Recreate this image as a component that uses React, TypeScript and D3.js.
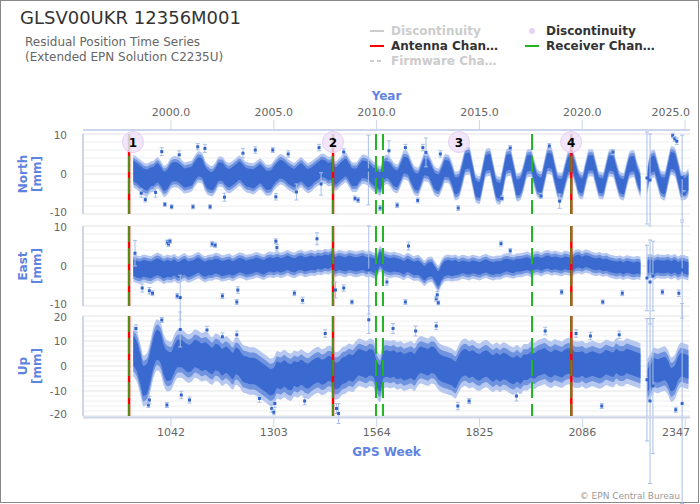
import * as d3 from "d3";

type Row = (number | null)[];
type Outlier = [number, number, number]; // year, value [mm], error [mm]
type Sample = { t: number; v: number | null; s: number };

// residual samples, six per year (Jan, Mar, May, Jul, Sep, Nov), from 1998
const firstYear = 1998;

const northMid: Row[] = [
  [null, 0.8, 0.2, -0.5, -1.2, -1.5],
  [-0.8, -0.5, 0.3, -0.6, -1.8, -1.2],
  [0.2, 0.6, 0.4, -0.3, -1.0, -0.8],
  [-0.5, 0.8, 1.8, 1.5, -0.5, -1.5],
  [-1.8, -0.8, 0.6, 0.5, -0.6, -1.0],
  [-0.5, 0.2, 0.8, 0.0, -0.8, -1.0],
  [-1.2, -0.6, 0.0, -0.8, -1.6, -1.5],
  [-0.4, 0.6, 1.2, 0.8, 0.0, -0.6],
  [-1.0, -0.2, 0.4, -0.4, -1.0, -0.6],
  [0.2, 0.8, 1.4, 1.2, 0.6, 0.8],
  [-0.5, 0.2, 1.0, 1.6, 0.4, -0.8],
  [-0.8, 0.3, 1.2, 1.0, 0.3, -0.6],
  [-1.0, -1.8, 0.5, 1.2, 0.4, -0.8],
  [-1.2, 0.4, 2.2, 2.0, 0.2, -1.6],
  [-2.0, -0.2, 1.8, 1.6, 0.0, -1.8],
  [-2.2, -0.6, 1.4, 1.2, -0.6, -3.0],
  [-2.6, 0.2, 3.2, 3.4, 0.0, -3.6],
  [-4.0, -0.6, 2.8, 3.0, -0.4, -3.8],
  [-4.2, -0.8, 2.8, 3.0, -0.2, -3.4],
  [-3.0, -0.4, 2.6, 2.8, 0.2, -2.4],
  [-2.8, 0.4, 3.4, 3.2, 0.0, -3.0],
  [-3.2, -0.4, 2.4, 2.8, 0.6, -2.4],
  [-3.0, 0.0, 2.8, 2.8, 0.0, -2.8],
  [-3.0, 0.0, 2.8, 2.6, -0.2, -2.8],
  [-3.2, -0.2, 2.4, 2.6, -0.2, -2.6],
  [null, -2.0, 2.2, 2.6, 0.0, -2.6],
  [-3.0, 0.2, 3.4, 3.0, 0.0, -3.0],
  [-3.0, -2.0],
];
const northSpread = [2.6, 2.4, 2.4, 2.4, 2.3, 2.3, 2.4, 2.3, 2.3, 2.2, 2.2, 2.2, 2.2, 2.1,
  2.1, 2.1, 2.0, 2.0, 2.0, 2.0, 1.9, 2.0, 1.9, 1.9, 1.9, 2.0, 2.1, 2.0];

const eastMid: Row[] = [
  [null, -0.4, -0.8, -1.0, -0.6, -0.8],
  [-1.0, -0.6, -0.2, -0.5, -1.0, -0.6],
  [-0.8, -0.4, -1.0, -0.6, -0.2, -0.8],
  [-0.6, -0.2, 0.2, -0.4, -0.8, -0.4],
  [-0.4, 0.0, -0.2, -0.6, -0.4, -0.2],
  [-0.6, -0.2, 0.2, 0.0, -0.4, -0.2],
  [0.0, 0.3, 0.0, -0.3, 0.2, 0.4],
  [0.2, 0.5, 0.2, 0.4, 0.8, 0.4],
  [0.2, 0.6, 0.8, 0.4, 0.6, 0.8],
  [0.6, 1.0, 0.8, 1.2, 1.0, 1.4],
  [0.4, 0.8, 0.6, 0.4, 0.8, 0.6],
  [0.4, 0.6, 0.8, 0.4, 0.6, 0.2],
  [0.0, 1.8, 0.8, 0.4, 0.2, 0.4],
  [0.2, 0.0, -0.4, 0.2, -0.2, -0.6],
  [-0.4, -1.0, -1.8, -1.0, -0.8, -2.0],
  [-3.2, -1.6, -0.6, -0.4, -0.6, -0.4],
  [-0.6, -0.2, -0.4, -0.6, -0.2, -0.4],
  [-0.6, -0.2, 0.0, -0.4, -0.6, -0.4],
  [-0.4, 0.0, 0.2, 0.0, -0.2, 0.2],
  [0.2, 0.4, 0.6, 0.2, 0.6, 0.8],
  [0.4, 0.8, 1.0, 0.6, 0.8, 0.6],
  [0.4, 0.8, 0.6, 0.4, 1.0, 1.2],
  [0.8, 1.2, 1.0, 0.6, 0.4, 0.6],
  [0.2, 0.4, 0.0, -0.2, -0.4, -0.2],
  [-0.6, -0.2, -0.4, -0.6, -0.4, -0.6],
  [null, -0.2, 0.0, -0.4, 0.0, -0.2],
  [-0.2, 0.0, -0.4, 0.0, -0.6, -0.2],
  [-0.4, -0.6],
];
const eastSpread = [2.1, 2.1, 2.0, 1.9, 1.9, 1.8, 1.8, 1.8, 1.8, 1.7, 1.8, 1.8, 1.8, 1.7,
  1.8, 1.9, 1.6, 1.6, 1.6, 1.6, 1.6, 1.6, 1.5, 1.5, 1.5, 1.6, 1.6, 1.6];

const upMid: Row[] = [
  [null, 6.0, 4.0, -1.0, -6.0, -5.0],
  [0.0, 6.0, 8.5, 7.0, 2.0, 0.0],
  [0.0, 3.0, 5.0, 5.0, 4.0, 3.0],
  [3.5, 5.0, 4.5, 3.5, 4.0, 3.0],
  [2.0, 3.5, 3.0, 1.5, 2.5, 1.5],
  [0.0, 2.0, 1.0, -1.0, -1.5, -2.0],
  [-2.0, -2.5, -3.5, -4.5, -5.5, -6.5],
  [-6.0, -3.5, -4.0, -3.0, -4.0, -4.5],
  [-3.0, -3.5, -2.5, -3.5, -4.0, -3.0],
  [-2.0, -1.5, -2.5, -2.0, -1.0, -1.5],
  [-4.0, -3.5, -2.0, -1.5, -0.5, -1.0],
  [0.5, 1.5, 1.0, 0.5, 1.5, 1.0],
  [-3.0, -5.0, 0.5, 1.0, 0.5, 1.0],
  [0.0, 0.5, -0.5, 0.0, 0.5, -0.5],
  [1.5, 2.5, 2.0, 1.5, 2.5, 2.0],
  [0.0, -1.0, -1.5, -2.0, -2.5, -3.5],
  [-1.0, 1.0, 1.5, 0.5, 1.0, 0.0],
  [-0.5, 0.5, 1.0, 0.0, -1.0, 0.0],
  [-1.0, 0.0, -0.5, -1.5, -2.0, -1.0],
  [-2.0, -0.5, -0.5, 0.5, 0.0, 1.0],
  [1.5, 2.0, 1.0, 0.5, 1.5, 1.0],
  [0.5, 1.5, 2.0, 1.5, 0.5, 0.5],
  [1.0, 0.0, 0.5, 1.0, 0.5, 0.0],
  [0.5, 1.5, 1.0, 0.5, 2.0, 1.0],
  [1.0, 2.0, 1.5, 1.0, 0.5, 0.0],
  [null, -6.0, -4.0, -1.5, -2.0, -1.5],
  [-1.0, -2.5, -5.5, -4.5, -1.0, 0.5],
  [0.0, -0.5],
];
const upSpread = [6.0, 6.0, 5.5, 5.5, 5.3, 5.3, 5.3, 5.3, 5.0, 5.0, 5.3, 5.3, 5.3, 5.3,
  5.3, 5.3, 5.3, 5.3, 5.3, 5.1, 5.1, 5.1, 4.9, 4.9, 4.9, 4.7, 4.7, 4.7];

// isolated points and long error bars
const northOutliers: Outlier[] = [
  [1998.55, -4.8, 1.0], [1998.75, -6.4, 0.6], [1999.25, -4.6, 1.2], [1999.55, 5.6, 1.0],
  [1999.7, -7.6, 0.5], [2000.03, -8.2, 0.5], [2000.4, 4.8, 1.0], [2001.07, -8.2, 0.5],
  [2001.3, 6.8, 0.8], [2001.65, 6.4, 1.0], [2001.9, -8.2, 0.5], [2002.6, -5.8, 1.0],
  [2003.5, 5.2, 1.2], [2004.1, 6.0, 0.8], [2004.95, 6.0, 0.6], [2005.1, -5.7, 0.8],
  [2005.7, 5.0, 0.8], [2006.1, -4.5, 2.0], [2007.2, 6.6, 0.8], [2007.3, -2.5, 2.8],
  [2008.4, 5.5, 0.8], [2008.95, -6.1, 0.6], [2009.1, -6.5, 0.6], [2009.6, 1.0, 8.7],
  [2010.17, -8.5, 0.6], [2010.6, 5.8, 2.5], [2011.0, -7.8, 0.6], [2011.4, 6.6, 0.8],
  [2012.0, -6.6, 0.6], [2012.25, 6.6, 0.8], [2012.4, 5.4, 3.6], [2013.1, 5.0, 0.8],
  [2013.97, -8.5, 0.6], [2016.1, -6.1, 0.6], [2016.5, 6.5, 0.6], [2018.0, -5.5, 0.6],
  [2018.4, 7.0, 0.6], [2018.9, -6.8, 1.8], [2021.5, 5.5, 0.6], [2024.4, 9.6, 0.6],
  [2024.5, 8.8, 0.6], [2024.6, 8.2, 0.8], [2024.95, -5.0, 0.8],
  [2023.15, -1.0, 11.5], [2023.3, -1.5, 11.5], [2024.86, -0.9, 10.6],
];
const eastOutliers: Outlier[] = [
  [1998.25, 3.2, 3.2], [1998.6, -5.5, 1.0], [1998.95, -6.2, 0.8], [1999.1, -6.8, 0.6],
  [1999.82, 6.0, 0.5], [1999.88, 5.5, 0.6], [1999.95, 6.2, 0.5], [2000.3, -7.5, 0.6],
  [2000.45, -7.9, 5.6], [2002.0, 5.5, 0.6], [2002.15, 5.2, 0.6], [2002.5, -7.5, 0.6],
  [2003.2, -9.0, 0.6], [2003.25, -6.0, 0.8], [2005.1, 6.2, 0.6], [2005.15, 4.6, 0.8],
  [2006.0, -6.8, 0.6], [2006.4, -8.6, 0.8], [2007.1, 6.8, 1.5], [2008.0, -6.0, 2.0],
  [2008.4, -5.5, 0.8], [2008.8, -9.0, 0.5], [2009.62, -1.0, 11.0], [2010.5, -4.0, 0.8],
  [2011.4, -9.0, 0.6], [2011.55, 5.0, 1.0], [2012.9, -8.2, 0.6], [2012.95, -7.2, 0.8],
  [2013.0, -9.2, 0.5], [2016.05, 5.6, 0.6], [2016.5, 3.8, 0.6], [2019.0, -6.5, 0.6],
  [2021.0, -9.0, 0.5], [2021.95, -6.8, 0.6], [2023.9, -6.5, 0.6], [2024.7, -6.8, 0.8],
  [2023.15, -3.0, 8.2], [2023.3, -4.0, 10.5], [2023.44, -2.5, 8.7], [2024.86, -1.0, 12.0],
];
const upOutliers: Outlier[] = [
  [1998.3, 15.0, 1.5], [1998.9, -15.6, 1.0], [1998.95, -13.6, 1.5], [1999.55, 18.4, 1.0],
  [1999.8, -15.6, 1.0], [2000.45, 14.6, 7.0], [2000.5, -11.6, 1.5], [2000.9, -13.6, 1.2],
  [2001.75, 14.4, 1.5], [2002.5, 11.7, 1.5], [2003.2, 12.5, 1.5], [2004.3, -13.0, 1.5],
  [2004.9, -17.0, 1.5], [2005.0, -18.5, 1.0], [2005.05, -15.0, 1.5], [2006.5, -14.0, 1.5],
  [2007.5, 13.0, 1.5], [2008.05, -17.0, 2.0], [2008.15, -19.0, 4.0], [2009.62, 18.5, 5.5],
  [2010.8, 15.0, 2.0], [2011.9, 14.0, 2.0], [2012.9, 16.0, 1.5], [2013.95, -16.0, 1.5],
  [2014.5, -14.0, 1.0], [2016.8, -12.0, 2.0], [2018.2, 14.0, 1.5], [2019.7, 13.0, 1.5],
  [2020.4, 12.0, 1.5], [2020.95, -16.0, 1.0], [2021.8, 12.5, 1.5], [2024.55, -17.5, 1.0],
  [2023.15, -5.5, 24.5], [2023.3, -14.0, 33.0], [2023.44, -8.0, 27.0], [2024.86, -15.0, 40.0],
];

// station events
const antennaChanges = [1997.96, 2007.88, 2019.47];
const receiverChanges = [1997.96, 2007.88, 2009.97, 2010.31, 2017.56, 2019.47];
const discontinuityYears = [1998.15, 2007.88, 2014.01, 2019.46];
const discontinuityLabels = ["1", "2", "3", "4"];

const yearTicks = [2000, 2005, 2010, 2015, 2020, 2025];
const weekTicks = [1042, 1303, 1564, 1825, 2086, 2347];

const width = 700;
const height = 504;
const left = 83;
const right = 690;
const axisColor = "#ccd6eb";
const titleBlue = "#5f83e0";
const font = "'DejaVu Sans', sans-serif";

const x = d3.scaleLinear().domain([1995.72, 2025.243]).range([left, right]);
const weekOf = (year: number) => 1042 + (year - 2000) * 52.1775;
const xWeek = d3.scaleLinear().domain([weekOf(1995.72), weekOf(2025.243)]).range([left, right]);

const panels = [
  { name: "North", top: 134, bottom: 214, domain: [-10, 10], labels: [-10, 0, 10], mid: northMid, spread: northSpread, outliers: northOutliers, halo: 1.5 },
  { name: "East", top: 226, bottom: 306, domain: [-10, 10], labels: [-10, 0, 10], mid: eastMid, spread: eastSpread, outliers: eastOutliers, halo: 1.4 },
  { name: "Up", top: 316, bottom: 416, domain: [-20, 20], labels: [-20, -10, 0, 10, 20], mid: upMid, spread: upSpread, outliers: upOutliers, halo: 4.2 },
];

type PanelDef = (typeof panels)[number];

// keep the outermost tick label inside the plot's right edge
const labelAnchor = (px: number, halfWidth: number) =>
  px + halfWidth > right ? { x: right, anchor: "end" } : { x: px, anchor: "middle" };

const Panel = ({ p, index }: { p: PanelDef; index: number }) => {
  const y = d3.scaleLinear().domain(p.domain).range([p.bottom, p.top]);
  const samples: Sample[] = p.mid.flatMap((row, i) =>
    row.map((v, k) => ({ t: firstYear + i + k / 6, v, s: p.spread[i] })),
  );
  const band = (extra: number) =>
    d3.area<Sample>()
      .defined((d) => d.v !== null)
      .x((d) => x(d.t))
      .y0((d) => y((d.v as number) - d.s - extra))
      .y1((d) => y((d.v as number) + d.s + extra))
      .curve(d3.curveMonotoneX)(samples) ?? "";
  const grid = d3.range(p.domain[0], p.domain[1] + 0.01, 2);
  const clipId = `clip-${index}`;
  const mid = (p.top + p.bottom) / 2;
  // nudge the end labels apart so neighbouring panels' labels don't collide
  const labelShift = (l: number) => (l === p.domain[0] ? -1.5 : l === p.domain[1] ? 1.5 : 0);

  return (
    <g>
      <clipPath id={clipId}>
        <rect x={left} y={p.top} width={right - left} height={p.bottom - p.top} />
      </clipPath>
      {grid.map((g) => (
        <line key={g} x1={left} x2={right} y1={y(g)} y2={y(g)}
          stroke={p.labels.includes(g) ? "#e3e3e3" : "#efefef"} strokeWidth={1} />
      ))}
      <line x1={left} x2={left} y1={p.top} y2={p.bottom} stroke={axisColor} strokeWidth={2} />
      {p.labels.map((l) => (
        <text key={l} x={67} y={y(l) + 3.5 + labelShift(l)} textAnchor="end" fontSize={10.5} fill="#666">{l}</text>
      ))}
      <text transform={`translate(27,${mid}) rotate(-90)`} textAnchor="middle"
        fontSize={12} fontWeight="bold" fill={titleBlue}>{p.name}</text>
      <text transform={`translate(41,${mid}) rotate(-90)`} textAnchor="middle"
        fontSize={12} fontWeight="bold" fill={titleBlue}>[mm]</text>

      <g clipPath={`url(#${clipId})`}>
        <path d={band(p.halo)} fill="#b6c8ef" />
        <path d={band(p.halo / 2)} fill="#6f93de" />
        <path d={band(0)} fill="#3a69cf" />
      </g>

      {antennaChanges.map((t) => (
        <line key={`a${t}`} x1={x(t)} x2={x(t)} y1={p.top} y2={p.bottom} stroke="#ff0000" strokeWidth={2.5} />
      ))}
      {receiverChanges.map((t) => (
        <line key={`r${t}`} x1={x(t)} x2={x(t)} y1={p.top} y2={p.bottom}
          stroke="#22b422" strokeWidth={2} strokeDasharray="16,6"
          strokeOpacity={antennaChanges.includes(t) ? 0.8 : 1} />
      ))}

      {p.outliers.map(([t, v, e], i) => (
        <g key={i}>
          <line x1={x(t)} x2={x(t)} y1={y(v + e)} y2={y(v - e)} stroke="#a9bfea" strokeWidth={1} />
          <line x1={x(t) - 2} x2={x(t) + 2} y1={y(v + e)} y2={y(v + e)} stroke="#a9bfea" strokeWidth={1} />
          <line x1={x(t) - 2} x2={x(t) + 2} y1={y(v - e)} y2={y(v - e)} stroke="#a9bfea" strokeWidth={1} />
          {v <= p.domain[1] && v >= p.domain[0] && (
            <rect x={x(t) - 1.5} y={y(v) - 1.5} width={3} height={3} fill="#3366cc" />
          )}
        </g>
      ))}

      {index === 0 && discontinuityYears.map((t, i) => (
        <g key={t}>
          <circle cx={x(t)} cy={y(8)} r={10.5} fill="#efe0f9" fillOpacity={0.8} stroke="#e6d0f5" strokeWidth={1} />
          <text x={x(t)} y={y(8) + 4.5} textAnchor="middle" fontSize={12} fontWeight="bold" fill="#000">
            {discontinuityLabels[i]}
          </text>
        </g>
      ))}
    </g>
  );
};

export default function App() {
  return (
    <svg width={width} height={height} viewBox={`0 0 ${width} ${height}`}
      style={{ position: "absolute", left: 0, top: 0, fontFamily: font }}>
      <rect x={0.5} y={0.5} width={698} height={502} fill="#fff" stroke="#888" strokeWidth={1} />

      <text x={20} y={24} fontSize={18} fill="#333">GLSV00UKR 12356M001</text>
      <text x={25} y={46} fontSize={12} fill="#666">Residual Position Time Series</text>
      <text x={25} y={61} fontSize={12} fill="#666">(Extended EPN Solution C2235U)</text>

      {/* legend */}
      <g fontSize={12} fontWeight="bold">
        <line x1={370} x2={384} y1={31} y2={31} stroke="#ccc" strokeWidth={2} />
        <text x={391} y={35} fill="#ccc">Discontinuity</text>
        <line x1={370} x2={384} y1={46} y2={46} stroke="#ff0000" strokeWidth={2} />
        <text x={391} y={50} fill="#333">Antenna Chan…</text>
        <line x1={370} x2={384} y1={61} y2={61} stroke="#ccc" strokeWidth={2} strokeDasharray="4,3" />
        <text x={391} y={65} fill="#ccc">Firmware Cha…</text>
        <circle cx={532} cy={31} r={3} fill="#e6d2f6" />
        <text x={546} y={35} fill="#333">Discontinuity</text>
        <line x1={525} x2={539} y1={46} y2={46} stroke="#22b422" strokeWidth={2} />
        <text x={546} y={50} fill="#333">Receiver Chan…</text>
      </g>

      {/* top year axis */}
      <text x={(left + right) / 2} y={100} textAnchor="middle" fontSize={12} fontWeight="bold" fill={titleBlue}>Year</text>
      <line x1={left} x2={right} y1={130} y2={130} stroke={axisColor} strokeWidth={2} />
      {yearTicks.map((t) => {
        const l = labelAnchor(x(t), 19);
        return (
          <g key={t}>
            <line x1={x(t)} x2={x(t)} y1={120} y2={130} stroke={axisColor} />
            <text x={l.x} y={116} textAnchor={l.anchor} fontSize={11} fill="#666">{t.toFixed(1)}</text>
          </g>
        );
      })}

      {panels.map((p, i) => <Panel key={p.name} p={p} index={i} />)}

      {/* bottom GPS week axis */}
      <line x1={left} x2={right} y1={417.5} y2={417.5} stroke={axisColor} strokeWidth={2} />
      {weekTicks.map((w) => {
        const l = labelAnchor(xWeek(w), 14);
        return (
          <g key={w}>
            <line x1={xWeek(w)} x2={xWeek(w)} y1={418} y2={427} stroke={axisColor} />
            <text x={l.x} y={436} textAnchor={l.anchor} fontSize={11} fill="#666">{w}</text>
          </g>
        );
      })}
      <text x={(left + right) / 2} y={456} textAnchor="middle" fontSize={12} fontWeight="bold" fill={titleBlue}>GPS Week</text>

      <text x={680} y={499} textAnchor="end" fontSize={9} fill="#999">© EPN Central Bureau</text>
    </svg>
  );
}
